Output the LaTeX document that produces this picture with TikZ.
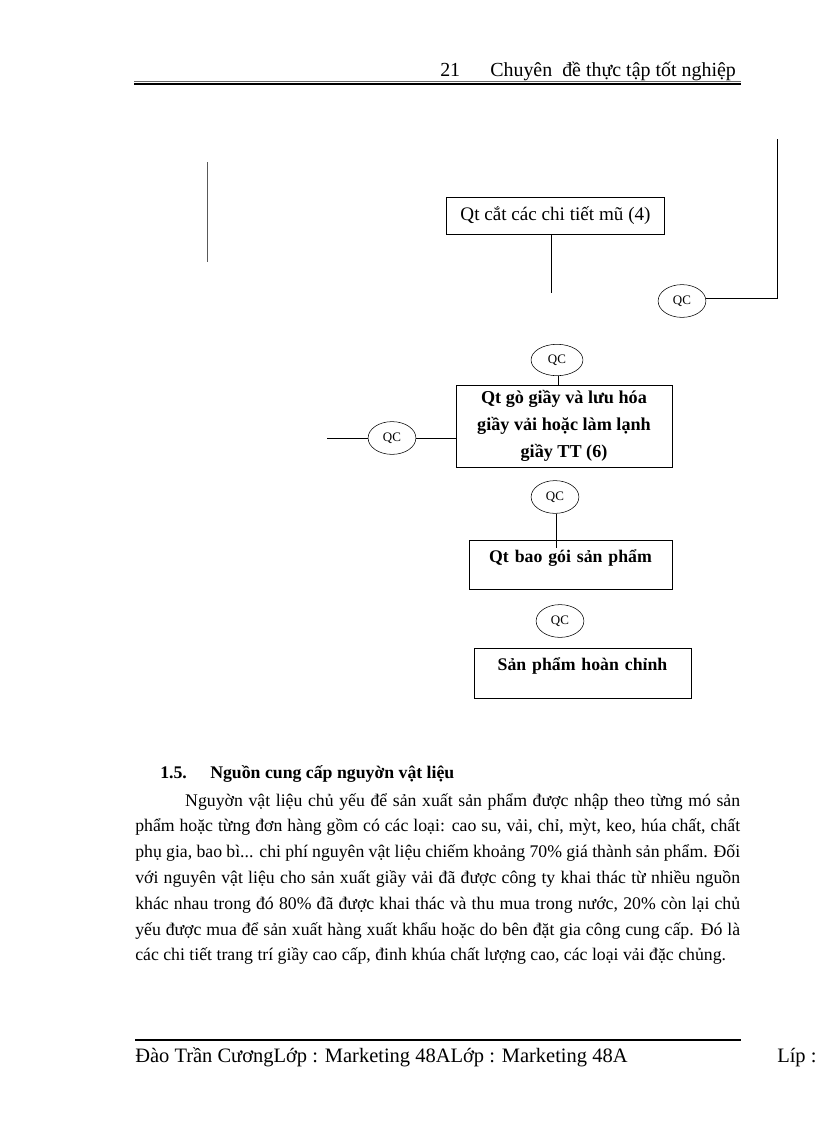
\documentclass[tikz,border=0pt]{standalone}
\usepackage{fontspec}
\setmainfont{Liberation Serif}
\usetikzlibrary{positioning, shapes.geometric}

\begin{document}
\begin{tikzpicture}
% style
	[x=0.2574mm, y=-0.2574mm,
	box/.style={rectangle, draw=black, thin, inner sep=0pt, font=\fontsize{13}{18.3}\selectfont},
	boldbox/.style={box, font=\fontsize{13.3}{19.6}\selectfont\bfseries},
	qc/.style={ellipse, draw=black, thin, inner sep=0pt, minimum width=35pt, minimum height=24pt, font=\fontsize{9.5}{10}\selectfont},
	link/.style={draw=black, thin},
	rule/.style={draw=black, line width=1.4pt},
	pagetext/.style={inner sep=0pt, font=\fontsize{14.6}{16}\selectfont},
	bodytext/.style={inner sep=0pt, font=\fontsize{13}{18.9}\selectfont}]

	\useasboundingbox (0,0) rectangle (816,1123);

	% header
	\node [pagetext, anchor=base west] (pageno) at (440,76) {21};
	\node [pagetext, anchor=base west] (title) at (490,76) {Chuyên\ \ đề thực tập tốt nghiệp};
	\coordinate (headA) at (134,81.2);
	\coordinate (headB) at (741,81.2);
	\coordinate (headC) at (134,83.6);
	\coordinate (headD) at (741,83.6);
	\draw [black!60, line width=0.5pt] (headA) -- (headB);
	\draw [rule] (headC) -- (headD);

	% flow chart
	\node [box, minimum width=160pt, minimum height=27pt, font=\fontsize{14}{16}\selectfont] (cat) at (555.5,215.5) {Qt cắt các chi tiết mũ (4)};
	\node [qc] (qcR) at (682,301) {QC};
	\node [qc, minimum width=38pt, minimum height=23pt] (qcT) at (557,360) {QC};
	\node [boldbox, minimum width=158pt, minimum height=60pt, align=center] (go) at (564,426)
		{Qt gò giầy và lưu hóa\\giầy vải hoặc làm lạnh\\giầy TT (6)};
	\node [qc] (qcL) at (392,438) {QC};
	\node [qc] (qcM) at (555,497) {QC};
	\node [boldbox, font=\fontsize{13}{18}\selectfont\bfseries, anchor=north, text width=148.6pt, align=center, text height=16pt, text depth=19.9pt] (bao) at (570.5,540) {Qt bao gói sản phẩm};
	\node [qc] (qcB) at (560,621) {QC};
	\node [boldbox, font=\fontsize{13}{18}\selectfont\bfseries, anchor=north, text width=159pt, align=center, text height=16pt, text depth=20.6pt] (sp) at (582.5,648) {Sản phẩm hoàn chỉnh};

	% connectors
	\coordinate (leftTop) at (207,162);
	\coordinate (leftBot) at (207,262);
	\coordinate (catEnd) at (551,293);
	\coordinate (rightTop) at (777,139);
	\coordinate (rightBend) at (777,298);
	\coordinate (leftIn) at (327,438);
	\coordinate (baoIn) at (556,548);
	\draw [black!65, line width=0.6pt] (leftTop) -- (leftBot);
	\draw [link] (cat.south -| catEnd) -- (catEnd);
	\draw [link] (rightTop) -- (rightBend) -- (rightBend -| qcR.east);
	\draw [link] (qcT.south -| 558,0) -- (go.north -| 558,0);
	\draw [link] (leftIn) -- (qcL.west);
	\draw [link] (qcL.east) -- (go.west |- qcL.east);
	\draw [link] (qcM.south -| baoIn) -- (baoIn);

	% section text
	\node [bodytext, anchor=base west, font=\fontsize{13}{18.9}\selectfont\bfseries] (secno) at (160,778) {1.5.};
	\node [bodytext, anchor=base west, font=\fontsize{13}{18.9}\selectfont\bfseries] (sechead) at (210,778) {Nguồn cung cấp nguyờn vật liệu};
	\node [bodytext, anchor=base west, text width=443pt, align=justify] (body) at (135,806)
		{\hspace*{36.6pt}Nguyờn vật liệu chủ yếu để sản xuất sản phẩm được nhập theo từng mó sản\linebreak
		phẩm hoặc từng đơn hàng gồm có các loại: cao su, vải, chỉ, mỳt, keo, húa chất, chất\linebreak
		phụ gia, bao bì... chi phí nguyên vật liệu chiếm khoảng 70\% giá thành sản phẩm. Đối\linebreak
		với nguyên vật liệu cho sản xuất giầy vải đã được công ty khai thác từ nhiều nguồn\linebreak
		khác nhau trong đó 80\% đã được khai thác và thu mua trong nước, 20\% còn lại chủ\linebreak
		yếu được mua để sản xuất hàng xuất khẩu hoặc do bên đặt gia công cung cấp. Đó là\linebreak
		các chi tiết trang trí giầy cao cấp, đinh khúa chất lượng cao, các loại vải đặc chủng.};

	% footer
	\coordinate (footA) at (135,1040);
	\coordinate (footB) at (741,1040);
	\draw [rule] (footA) -- (footB);
	\node [pagetext, anchor=base west, font=\fontsize{15}{17}\selectfont] (author) at (135,1062) {Đào Trần CươngLớp : Marketing 48ALớp : Marketing 48A};
	\node [pagetext, anchor=base west, font=\fontsize{15}{17}\selectfont] (lop) at (777,1062) {Líp :};
\end{tikzpicture}
\end{document}
